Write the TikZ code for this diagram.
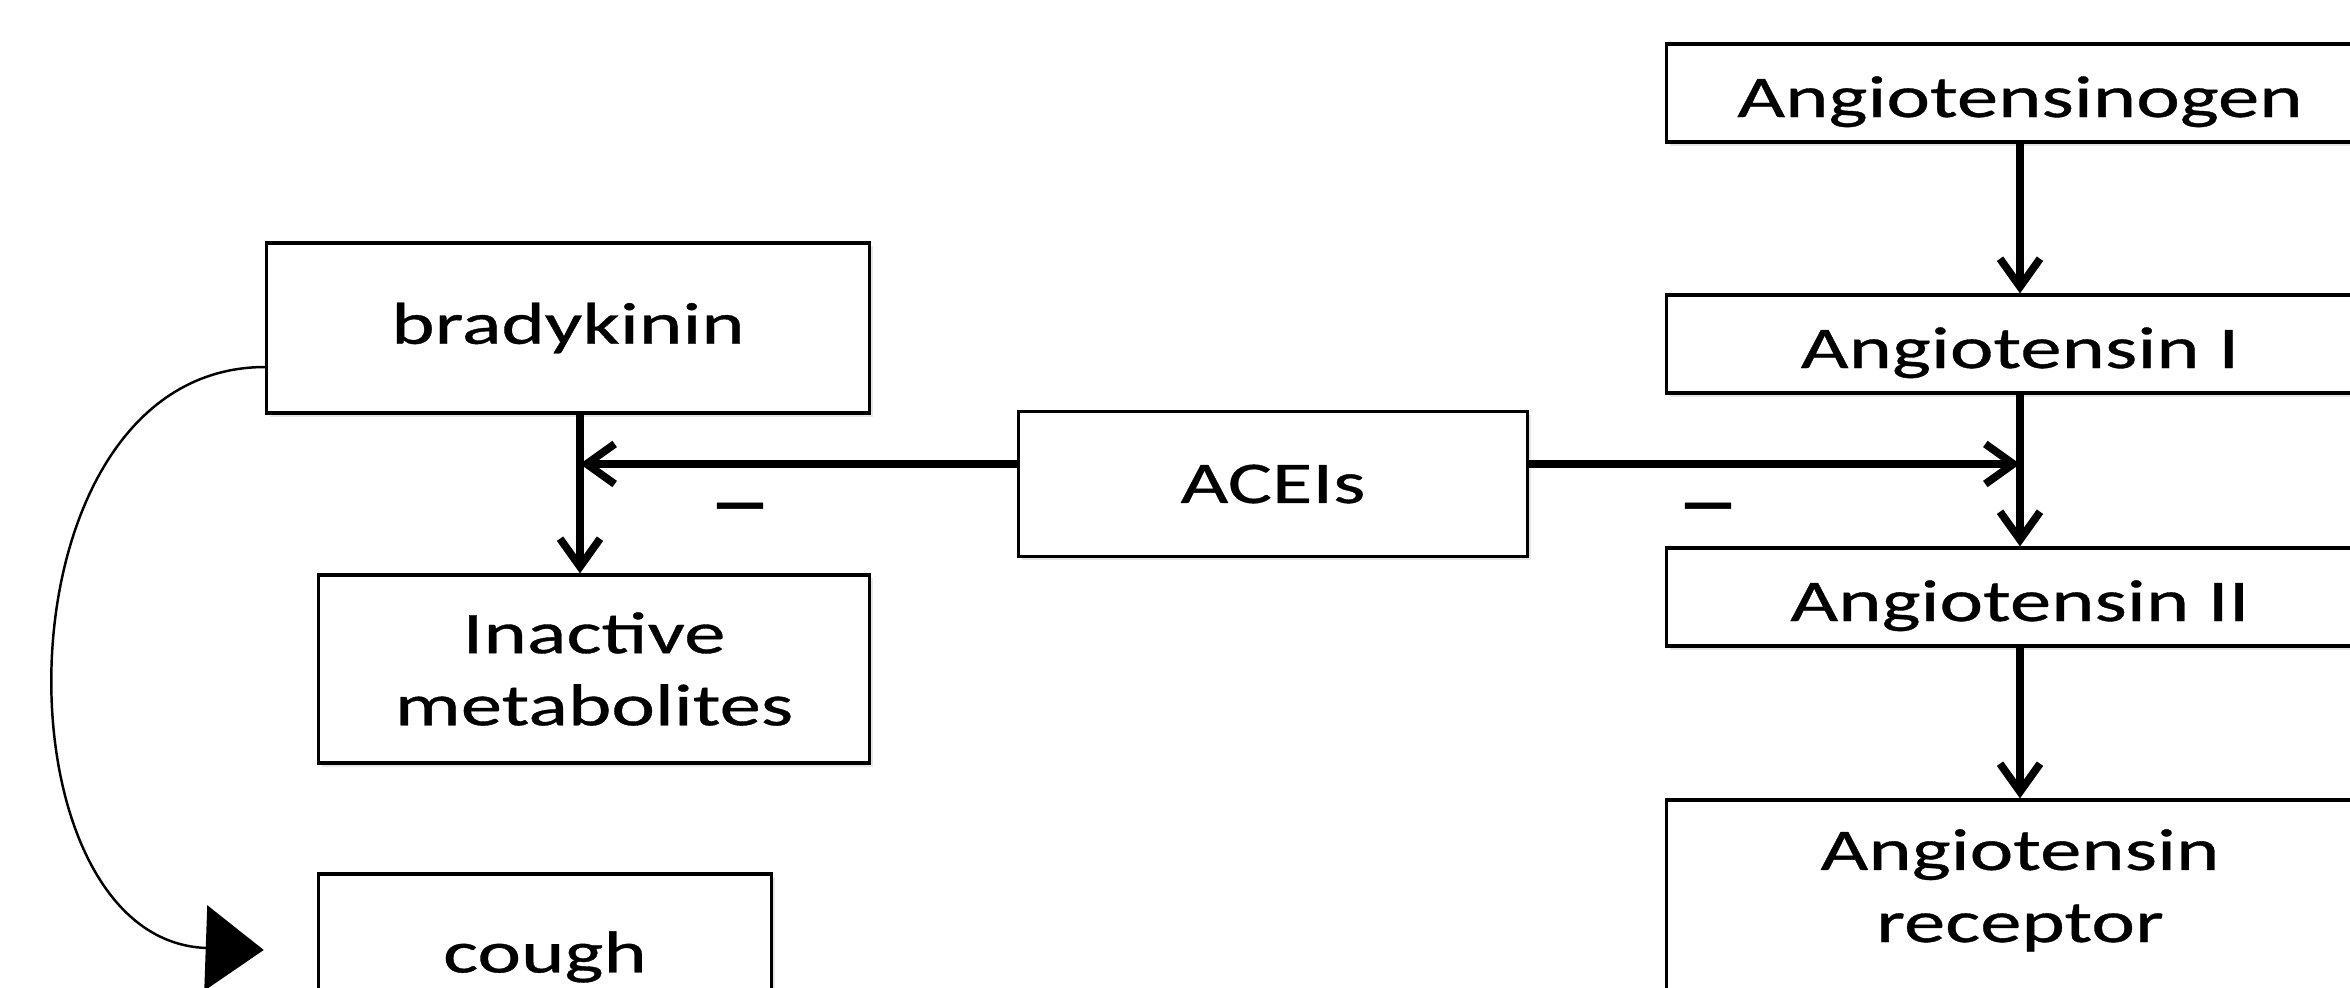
\documentclass[tikz,border=0pt]{standalone}
\usepackage{fontspec}
\setmainfont{Carlito}[FakeStretch=1.4,FakeBold=0.6]
\usetikzlibrary{arrows.meta,shadows}

\begin{document}
\begin{tikzpicture}[x=0.01cm,y=-0.01cm,
  box/.style={draw,line width=0.9pt,fill=white,inner sep=0pt,align=center,font=\fontsize{16.8}{20.5}\selectfont,
    drop shadow={opacity=0.2,shadow xshift=0.035cm,shadow yshift=-0.035cm}},
  angbox/.style={box,minimum width=7.06cm,minimum height=0.98cm,text height=0.48cm,text depth=0pt},
  arr/.style={line width=2.2pt,-{Straight Barb[length=0.28cm,width=0.4cm]}},
  curvearr/.style={line width=0.7pt,-{Triangle[length=0.58cm,width=0.85cm]}}]
\useasboundingbox (0,0) rectangle (2350,988);
% left side
\node[box,minimum width=6.02cm,minimum height=1.70cm](brady)at(568,328){bradykinin};
\node[box,minimum width=5.51cm,minimum height=1.88cm](inact)at(594,669){Inactive\\metabolites};
\node[box,minimum width=4.53cm,minimum height=1.66cm](cough)at(545,957){cough};
\node[box,minimum width=5.08cm,minimum height=1.45cm](aceis)at(1273,484){ACEIs};
% right side
\node[angbox](agen)at(2020,93){Angiotensinogen};
\node[angbox](a1)at(2020,344){Angiotensin I};
\node[angbox](a2)at(2020,597){Angiotensin II};
\node[box,minimum width=7.06cm,minimum height=2.10cm,text height=1.10cm,text depth=0.36cm](arec)at(2020,905){Angiotensin\\receptor};
\foreach\a/\b in{agen/a1,a1/a2,a2/arec}{\draw[arr](\a)--(\b);}
\coordinate(bk)at([xshift=0.12cm]brady.south);
\draw[arr](bk)--(bk|-inact.north);
\draw[arr]([yshift=0.2cm]aceis.west)--([yshift=0.2cm]aceis.west-|bk);
\draw[arr]([yshift=0.2cm]aceis.east)--([yshift=0.2cm]aceis.east-|a1);
\node[font=\fontsize{26}{30}\selectfont](mnl)at(740,517){--};
\node[font=\fontsize{26}{30}\selectfont](mnr)at(1708,517){--};
\draw[curvearr]([yshift=-0.39cm]brady.west)to[out=180,in=178,looseness=1.2]([xshift=-0.53cm,yshift=0.07cm]cough.west);
\end{tikzpicture}
\end{document}
